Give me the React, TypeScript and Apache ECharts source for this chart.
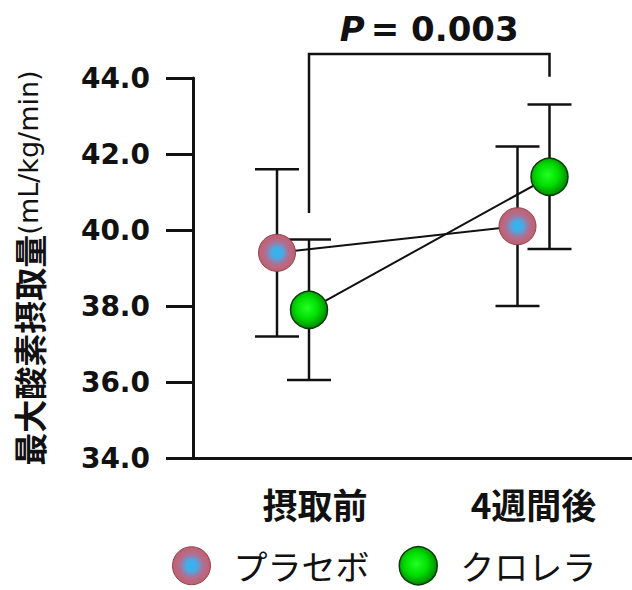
import React, { useEffect, useRef } from 'react';
import * as echarts from 'echarts';

// ---- data ----
const categories = ['摂取前', '4週間後'];
const seriesNames = ['プラセボ', 'クロレラ'];
const placeboMean = [39.4, 40.1];
const placeboLower = [37.2, 38.0];
const placeboUpper = [41.6, 42.2];
const chlorellaMean = [37.9, 41.4];
const chlorellaLower = [36.05, 39.5];
const chlorellaUpper = [39.75, 43.3];
const yMin = 34;
const yMax = 44;
const yInterval = 2;
// significance bracket: [left foot, top, right foot] in axis units
const bracketValues = [40.45, 44.63, 44.03];
const pLabel = ['P', '= 0.003'];
const yTitle = ['最大酸素摂取量', '(mL/kg/min)'];

// ---- styles ----
const INK = '#111111';
const DX_PLACEBO = -16;
const DX_CHLORELLA = 16;
const CAP = 22;
const CJK = '"Noto Sans CJK JP", "Noto Sans", sans-serif';
const LATIN = '"DejaVu Sans", "Noto Sans CJK JP", sans-serif';

const placeboFill = {
  type: 'radial', x: 0.5, y: 0.5, r: 0.5,
  colorStops: [
    { offset: 0, color: '#2ab8f2' },
    { offset: 0.3, color: '#4aa9e4' },
    { offset: 0.62, color: '#b06f92' },
    { offset: 1, color: '#c45e6c' },
  ],
};
const chlorellaFill = {
  type: 'radial', x: 0.45, y: 0.45, r: 0.55,
  colorStops: [
    { offset: 0, color: '#22ff22' },
    { offset: 0.55, color: '#00dd00' },
    { offset: 1, color: '#008800' },
  ],
};

function errorBarSeries(mean: number[], lower: number[], upper: number[], dx: number) {
  return {
    type: 'custom',
    z: 2,
    clip: false,
    silent: true,
    data: mean.map((m, i) => [i, m, lower[i], upper[i]]),
    encode: { x: 0, y: [1, 2, 3] },
    renderItem: (params: any, api: any) => {
      const lo = api.coord([api.value(0), api.value(2)]);
      const hi = api.coord([api.value(0), api.value(3)]);
      const x = lo[0] + dx;
      const style = { stroke: INK, lineWidth: 2.5 };
      return {
        type: 'group',
        children: [
          { type: 'line', shape: { x1: x, y1: lo[1], x2: x, y2: hi[1] }, style },
          { type: 'line', shape: { x1: x - CAP, y1: hi[1], x2: x + CAP, y2: hi[1] }, style },
          { type: 'line', shape: { x1: x - CAP, y1: lo[1], x2: x + CAP, y2: lo[1] }, style },
        ],
      };
    },
  };
}

function connectSeries(mean: number[], dx: number) {
  return {
    type: 'custom',
    z: 3,
    clip: false,
    silent: true,
    data: mean.map((m, i) => [i, m]),
    encode: { x: 0, y: 1 },
    renderItem: (params: any, api: any) => {
      const i = params.dataIndexInside;
      if (i >= mean.length - 1) return { type: 'group', children: [] };
      const a = api.coord([api.value(0, i), api.value(1, i)]);
      const b = api.coord([api.value(0, i + 1), api.value(1, i + 1)]);
      return {
        type: 'line',
        shape: { x1: a[0] + dx, y1: a[1], x2: b[0] + dx, y2: b[1] },
        style: { stroke: INK, lineWidth: 2 },
      };
    },
  };
}

export default function App() {
  const ref = useRef<HTMLDivElement>(null);
  useEffect(() => {
    if (!ref.current) return;
    const chart = echarts.init(ref.current, null, { renderer: 'svg' });
    const option: any = {
      animation: false,
      backgroundColor: '#ffffff',
      grid: { left: 172.75, width: 481, top: 78, bottom: 132, containLabel: false, outerBoundsMode: 'none' },
      xAxis: {
        type: 'category',
        data: categories,
        boundaryGap: true,
        axisLine: { lineStyle: { color: INK, width: 3 } },
        axisTick: { show: false },
        axisLabel: {
          margin: 28,
          interval: 0,
          formatter: (v: string, i: number) => (i === 0 ? `{s|${v}}` : `{n|${v}}`),
          rich: {
            s: { fontFamily: CJK, fontSize: 35, fontWeight: 'bold', color: INK, padding: [0, 0, 0, 44] },
            n: { fontFamily: CJK, fontSize: 35, fontWeight: 'bold', color: INK },
          },
        },
        splitLine: { show: false },
      },
      yAxis: {
        type: 'value',
        min: yMin,
        max: yMax,
        interval: yInterval,
        offset: -20.25,
        axisLine: { show: true, lineStyle: { color: INK, width: 3 } },
        axisTick: { show: true, length: 27, lineStyle: { color: INK, width: 3 } },
        axisLabel: {
          margin: 43,
          fontFamily: LATIN,
          fontSize: 28,
          fontWeight: 'bold',
          color: INK,
          formatter: (v: number) => v.toFixed(1),
        },
        splitLine: { show: false },
        name: `{a|${yTitle[0]}}{b|${yTitle[1]}}`,
        nameLocation: 'middle',
        nameRotate: 90,
        nameGap: 148,
        nameTextStyle: {
          rich: {
            a: { fontFamily: CJK, fontSize: 33, fontWeight: 'bold', color: INK },
            b: { fontFamily: LATIN, fontSize: 27, color: INK },
          },
        },
      },
      legend: {
        show: true,
        left: 172,
        top: 546,
        padding: 0,
        itemGap: 29,
        itemWidth: 38,
        itemHeight: 38,
        selectedMode: false,
        textStyle: { fontFamily: CJK, fontSize: 34, color: INK, padding: [0, 0, 0, 18] },
        data: [
          { name: seriesNames[0], icon: 'circle', itemStyle: { color: placeboFill, borderColor: '#8a4650', borderWidth: 1 } },
          { name: seriesNames[1], icon: 'circle', itemStyle: { color: chlorellaFill, borderColor: '#0b3a0b', borderWidth: 1.5 } },
        ],
      },
      series: [
        errorBarSeries(placeboMean, placeboLower, placeboUpper, DX_PLACEBO),
        errorBarSeries(chlorellaMean, chlorellaLower, chlorellaUpper, DX_CHLORELLA),
        connectSeries(placeboMean, DX_PLACEBO),
        connectSeries(chlorellaMean, DX_CHLORELLA),
        {
          type: 'scatter',
          name: seriesNames[0],
          z: 4,
          data: placeboMean,
          symbol: 'circle',
          symbolSize: 37,
          symbolOffset: [DX_PLACEBO, 0],
          itemStyle: { color: placeboFill, borderColor: '#8a4650', borderWidth: 1, opacity: 1 },
          silent: true,
        },
        {
          type: 'scatter',
          name: seriesNames[1],
          z: 4,
          data: chlorellaMean,
          symbol: 'circle',
          symbolSize: 37,
          symbolOffset: [DX_CHLORELLA, 0],
          itemStyle: { color: chlorellaFill, borderColor: '#0b3a0b', borderWidth: 1.5, opacity: 1 },
          silent: true,
        },
        {
          type: 'custom',
          z: 5,
          clip: false,
          silent: true,
          data: [[0, 1, bracketValues[0], bracketValues[1], bracketValues[2]]],
          encode: { x: [0, 1], y: [2, 3, 4] },
          renderItem: (params: any, api: any) => {
            const leftFoot = api.coord([api.value(0), api.value(2)]);
            const leftTop = api.coord([api.value(0), api.value(3)]);
            const rightTop = api.coord([api.value(1), api.value(3)]);
            const rightFoot = api.coord([api.value(1), api.value(4)]);
            const dx = DX_CHLORELLA;
            const midX = (leftTop[0] + rightTop[0]) / 2 + dx;
            return {
              type: 'group',
              children: [
                {
                  type: 'polyline',
                  shape: {
                    points: [
                      [leftFoot[0] + dx, leftFoot[1]],
                      [leftTop[0] + dx, leftTop[1]],
                      [rightTop[0] + dx, rightTop[1]],
                      [rightFoot[0] + dx, rightFoot[1]],
                    ],
                  },
                  style: { stroke: INK, lineWidth: 2.5, fill: 'none' },
                },
                {
                  type: 'text',
                  x: midX,
                  y: leftTop[1] - 25,
                  style: {
                    text: `{i|${pLabel[0]}}{n|${pLabel[1]}}`,
                    align: 'center',
                    verticalAlign: 'middle',
                    fill: INK,
                    rich: {
                      i: { fontFamily: LATIN, fontSize: 34, fontWeight: 'bold', fontStyle: 'italic', fill: INK, padding: [0, 6, 0, 0] },
                      n: { fontFamily: LATIN, fontSize: 34, fontWeight: 'bold', fill: INK },
                    },
                  },
                },
              ],
            };
          },
        },
      ],
    };
    chart.setOption(option);
    return () => chart.dispose();
  }, []);
  return (
    <div
      ref={ref}
      style={{ position: 'absolute', left: 0, top: 0, width: 632, height: 590 }}
    />
  );
}
